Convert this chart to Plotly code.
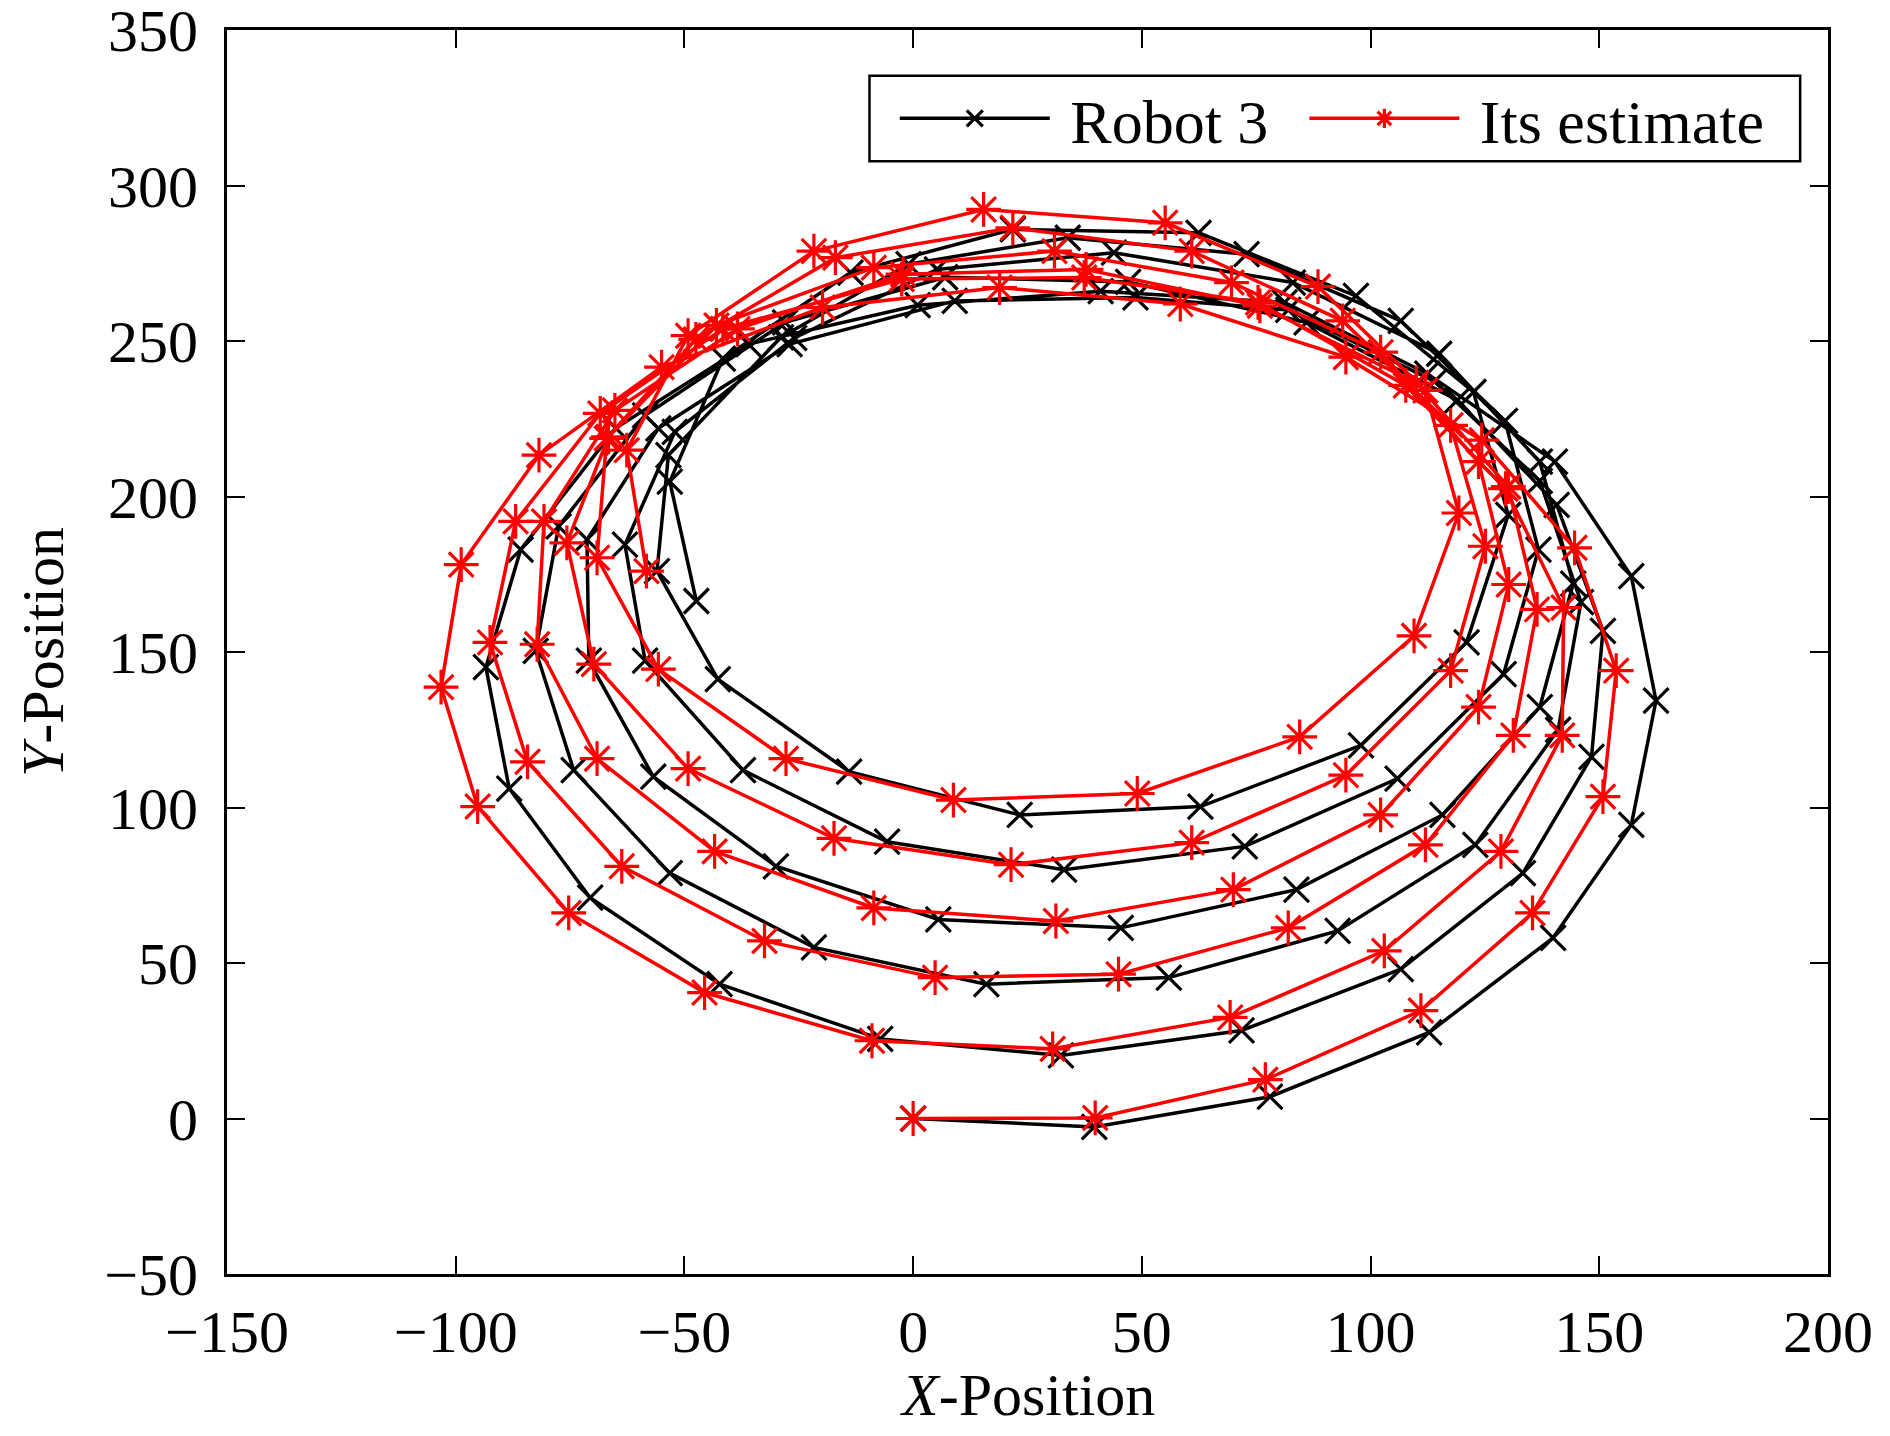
import plotly.graph_objects as go

# Robot 3 true path, one line per loop of the spiral
robot_x = [
    0, 39.6, 78, 112.8, 139.9, 157, 162.4, 157, 140.3, 112.4, 81.2, 41, 1, -36, -65, -85.8, -93.4, -88.3, -70.6, -42.3,
    -7.2, 32.3, 71.8, 106.6, 133.3, 148.3, 150.8, 140.7, 119, 86, 47, 7, -28, -58.6, -77.5, -82.5, -74.2, -53.2,
    -21.7, 16, 55.9, 92.8, 122.9, 141, 146, 137, 114, 82, 48.6, 9.1, -27, -55.7, -71.3, -70.9, -56.8, -30,
    5.5, 45.4, 83.8, 115.7, 137, 144.3, 137, 115, 83, 43.9, 5.2, -26, -52.1, -63, -58.6, -37.2,
    -5.7, 33, 72.5, 105.9, 129.1, 136.7, 129.4, 106.6, 72.9, 33.8, -1, -28.9, -53.5, -56, -42.7,
    -14, 23.3, 62.8, 97.9, 121, 130.1, 122.5, 96.8, 62.4, 21.8, -13.7, -41.6, -53.2, -47.4,
]
robot_y = [
    0, -2.7, 7, 27.7, 58.1, 94.4, 134.4, 174.4, 211.2, 239.5, 262.4, 266, 261.5, 249, 222, 182.9, 145.1, 106.1, 71, 43.2,
    25.6, 20.3, 28.3, 48, 78.9, 116.3, 156.8, 197.3, 231, 256, 269, 270.5, 256, 226.1, 190.4, 150.4, 112, 78.9,
    55, 43.2, 45.3, 60.3, 88, 125, 166, 205, 237, 260, 264, 262.9, 249, 221.9, 186.1, 147.2, 109.9, 81.1,
    64, 61.3, 73.6, 97.6, 132.3, 172, 211.2, 245.9, 268.8, 278.4, 273, 251, 220.8, 184.5, 147.2, 112,
    89, 80, 87.5, 109.3, 142.9, 182.9, 224.3, 256.5, 277.9, 283.2, 274.7, 251.2, 213.3, 176, 141.3,
    111.5, 97.6, 100.3, 120, 153.1, 194.1, 233.6, 264.5, 284.8, 285.9, 272, 244.3, 204.8, 166.4,
]

# its estimate
est_x = [
    0, 39.8, 77, 111, 135.4, 150.8, 153.7, 144.6, 124.3, 94.6, 58.4, 18.9, -19.8, -55, -81.8, -98.8, -103.2, -95.2, -75.3, -45.6,
    -9, 30.5, 69.3, 103, 128.5, 141.9, 142.2, 129.5, 107.7, 75.4, 37.4, -2.5, -41.6, -68.4, -86.9, -92.5, -84.3, -63.7,
    -32.5, 4.8, 44.9, 82, 112, 131.2, 136.4, 130.1, 110, 75.8, 37.8, -2.2, -38.4, -65.2, -80.7, -82.2, -69.1, -43.4,
    -8.6, 31.2, 70, 102.2, 123.6, 130.2, 123.6, 102.2, 69.6, 30.9, -8.6, -43, -66.6, -75.7, -69.8, -49.2,
    -17.3, 21.4, 60.9, 94.6, 117.5, 125.1, 117.5, 93.9, 60.9, 21.8, -17, -47.5, -67, -69.1, -55.7,
    -27.8, 8.8, 49, 84.5, 109.5, 119.3, 112, 88.5, 55.1, 15.4, -21.7, -49.2, -62.6, -58.3,
]
est_y = [
    0, 0.2, 12.5, 34.7, 66.1, 103.5, 144, 183.5, 218.1, 244.8, 261.9, 267.2, 260.8, 241.6, 213.3, 178.1, 138.7, 100.3, 66.1, 40.5,
    25, 22.4, 32.5, 53.9, 85.9, 123.2, 164.3, 202.5, 235.7, 262.4, 270.4, 269.9, 253.9, 226.7, 192, 153.1, 114.7, 81.1,
    57.1, 45.3, 46.4, 61.3, 88, 123.2, 163.7, 203.2, 236.5, 261.3, 273, 271.5, 253.9, 227.7, 192, 152.5, 115.7, 85.9,
    67.7, 63.5, 73.6, 97.6, 132.3, 171.7, 211.2, 246.4, 268.8, 278.9, 273.6, 255, 219.2, 185.1, 146.1, 112.5,
    90.1, 81.6, 88.7, 110.4, 144, 184, 222.9, 256.5, 278.9, 286.4, 276.8, 250.5, 218.7, 180.3, 144.5,
    115.7, 102.4, 104.5, 122.7, 155.2, 194.7, 234.1, 267.5, 288, 292.3, 278.9, 251.7, 214.9, 176,
]

x_ticks = [-150, -100, -50, 0, 50, 100, 150, 200]
y_ticks = [-50, 0, 50, 100, 150, 200, 250, 300, 350]

NBSP = "\u00a0"
FONT = "Liberation Serif"

fig = go.Figure()
fig.add_trace(go.Scatter(
    x=robot_x, y=robot_y, mode="lines+markers",
    name=NBSP + "Robot 3" + NBSP * 2,
    line=dict(color="black", width=3.5),
    marker=dict(symbol="x-thin-open", size=25, color="black", line=dict(width=3.2, color="black")),
))
fig.add_trace(go.Scatter(
    x=est_x, y=est_y, mode="lines+markers",
    name=NBSP + "Its estimate",
    line=dict(color="#ff0000", width=3.5),
    marker=dict(symbol="asterisk-open", size=29, color="#ff0000", line=dict(width=3.2, color="#ff0000")),
))

axis_style = dict(
    showline=True, linecolor="black", linewidth=3, mirror="ticks",
    ticks="inside", ticklen=18, tickwidth=2, tickcolor="black",
    showgrid=False, zeroline=False, ticklabeloverflow="allow", automargin=False,
    tickfont=dict(family=FONT, size=60, color="black"),
)

fig.update_xaxes(range=[-150, 200], tickvals=x_ticks, ticklabelstandoff=3, **axis_style)
fig.update_yaxes(range=[-50, 350], tickvals=y_ticks, ticklabelstandoff=14,
                 title=dict(text="<i>Y</i>-Position", standoff=22,
                            font=dict(family=FONT, size=60, color="black")),
                 **axis_style)

# x title as an annotation so its height below the axis is fixed
fig.add_annotation(text="<i>X</i>-Position", xref="paper", yref="paper",
                   x=0.5, y=-0.097, xanchor="center", yanchor="middle",
                   showarrow=False, font=dict(family=FONT, size=60, color="black"))

# legend frame drawn as a shape so the padding matches the original
fig.add_shape(type="rect", xref="paper", yref="paper",
              x0=0.4013, x1=0.9826, y0=0.8944, y1=0.9632,
              line=dict(color="black", width=2.5), fillcolor="white", layer="below")

# page body has an 8px margin, so the figure is 16px smaller than the window
fig.update_layout(
    width=1874, height=1420,
    margin=dict(l=219, r=54, t=22, b=154),
    plot_bgcolor="white", paper_bgcolor="white",
    font=dict(family=FONT, size=60, color="black"),
    showlegend=True,
    legend=dict(
        orientation="h", x=0.4171, xanchor="left", y=0.9288, yanchor="middle",
        bgcolor="rgba(0,0,0,0)", borderwidth=0,
        itemwidth=150, font=dict(family=FONT, size=62, color="black"),
    ),
)

fig.write_html("out.html")
